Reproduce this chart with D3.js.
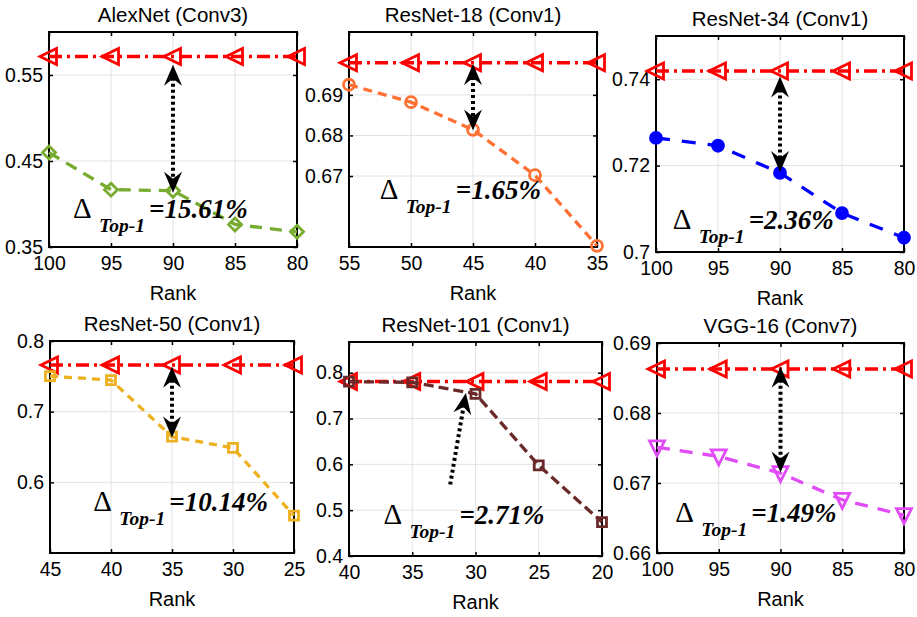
<!DOCTYPE html>
<html>
<head>
<meta charset="utf-8">
<script src="https://cdn.jsdelivr.net/npm/d3@7"></script>
<style>
  body { margin: 0; background: #fff; }
  svg { display: block; }
  text { fill: #000; }
</style>
</head>
<body>
<svg id="chart" width="917" height="617"></svg>
<script>
'use strict'

// ---- data ----
const titles = ['AlexNet (Conv3)', 'ResNet-18 (Conv1)', 'ResNet-34 (Conv1)',
    'ResNet-50 (Conv1)', 'ResNet-101 (Conv1)', 'VGG-16 (Conv7)']
const deltas = ['=15.61%', '=1.65%', '=2.36%', '=10.14%', '=2.71%', '=1.49%']

const alexRank = [100, 95, 90, 85, 80]
const alexBase = [0.5716, 0.5716, 0.5716, 0.5716, 0.5716]
const alexAcc = [0.4598, 0.4167, 0.4155, 0.3762, 0.3676]
const alexYTicks = [0.35, 0.45, 0.55]

const r18Rank = [55, 50, 45, 40, 35]
const r18Base = [0.6979, 0.6979, 0.6979, 0.6979, 0.6979]
const r18Acc = [0.6925, 0.6882, 0.6814, 0.6702, 0.6528]
const r18YTicks = [0.67, 0.68, 0.69]

const r34Rank = [100, 95, 90, 85, 80]
const r34Base = [0.7419, 0.7419, 0.7419, 0.7419, 0.7419]
const r34Acc = [0.7264, 0.7246, 0.7183, 0.709, 0.7033]
const r34YTicks = [0.7, 0.72, 0.74]

const r50Rank = [45, 40, 35, 30, 25]
const r50Base = [0.766, 0.766, 0.766, 0.766, 0.766]
const r50Acc = [0.7503, 0.7447, 0.6646, 0.6487, 0.553]
const r50YTicks = [0.6, 0.7, 0.8]

const r101Rank = [40, 35, 30, 25, 20]
const r101Base = [0.781, 0.781, 0.781, 0.781, 0.781]
const r101Acc = [0.7805, 0.779, 0.7539, 0.5976, 0.474]
const r101YTicks = [0.4, 0.5, 0.6, 0.7, 0.8]

const vggRank = [100, 95, 90, 85, 80]
const vggBase = [0.6863, 0.6863, 0.6863, 0.6863, 0.6863]
const vggAcc = [0.6751, 0.6738, 0.6714, 0.6676, 0.6654]
const vggYTicks = [0.66, 0.67, 0.68, 0.69]

// ---- drawing ----
const sans = '"Liberation Sans", Arial, sans-serif'
const serif = '"Liberation Serif", "Times New Roman", serif'

const markerPath = {
    triLeft: 'M-9,0L7.5,-8L7.5,8Z',
    triDown: 'M-7.5,-6.5L7.5,-6.5L0,8.5Z',
    diamond: 'M0,-6.5L6.5,0L0,6.5L-6.5,0Z',
    square: 'M-4.5,-4.5H4.5V4.5H-4.5Z',
    circle: 'M5.5,0A5.5,5.5,0,1,1,-5.5,0A5.5,5.5,0,1,1,5.5,0Z'
}

const panels = [
    { rank: alexRank, base: alexBase, acc: alexAcc, yTicks: alexYTicks, yDom: [0.35, 0.6],
      box: [49, 297, 32, 247], color: '#77ac30', dash: '12,8', marker: 'diamond', fill: 'none',
      arrow: [90, 0.562, 0.413], anno: [98.06, 0.384] },
    { rank: r18Rank, base: r18Base, acc: r18Acc, yTicks: r18YTicks, yDom: [0.6525, 0.7055],
      box: [349, 597, 32, 247], color: '#ff7033', dash: '9,6', marker: 'circle', fill: 'none',
      arrow: [45, 0.6976, 0.6812], anno: [52.52, 0.6643] },
    { rank: r34Rank, base: r34Base, acc: r34Acc, yTicks: r34YTicks, yDom: [0.7, 0.75],
      box: [656, 904, 36, 252], color: '#0000ff', dash: '14,12', marker: 'circle', fill: '#0000ff',
      arrow: [90, 0.7406, 0.7185], anno: [98.65, 0.7053] },
    { rank: r50Rank, base: r50Base, acc: r50Acc, yTicks: r50YTicks, yDom: [0.5, 0.8],
      box: [50, 294, 341, 553], color: '#edb120', dash: '8,6', marker: 'square', fill: 'none',
      arrow: [35, 0.7637, 0.6634], anno: [41.45, 0.5589] },
    { rank: r101Rank, base: r101Base, acc: r101Acc, yTicks: r101YTicks, yDom: [0.4, 0.867],
      box: [349, 602, 342, 556], color: '#6b2a2a', dash: '10,5', marker: 'square', fill: 'none',
      arrow: [32.0, 0.556, 30.76, 0.7555], anno: [37.28, 0.4707] },
    { rank: vggRank, base: vggBase, acc: vggAcc, yTicks: vggYTicks, yDom: [0.66, 0.69],
      box: [657, 904, 343, 553], color: '#e04cf5', dash: '13,10', marker: 'triDown', fill: 'none',
      arrow: [90, 0.6866, 0.6715], anno: [98.52, 0.6644] }
]

const svg = d3.select('#chart')

// notched arrow head (vback2 style), tip at origin pointing up
const headPath = 'M0,0L9,21L0,14L-9,21Z'

const drawArrowHead = (g, x, y, angle) => {
    g.append('path')
        .attr('d', headPath)
        .attr('fill', '#000')
        .attr('transform', `translate(${x},${y}) rotate(${angle})`)
}

panels.forEach((p, i) => {
    const [left, right, top, bottom] = p.box
    const x = d3.scaleLinear().domain([p.rank[0], p.rank[4]]).range([left, right])
    const y = d3.scaleLinear().domain(p.yDom).range([bottom, top])
    const g = svg.append('g')

    // grid
    g.append('g').selectAll('line').data(p.rank).join('line')
        .attr('x1', d => x(d)).attr('x2', d => x(d))
        .attr('y1', top).attr('y2', bottom)
        .attr('stroke', '#e2e2e2').attr('stroke-width', 1)
    g.append('g').selectAll('line').data(p.yTicks).join('line')
        .attr('x1', left).attr('x2', right)
        .attr('y1', d => y(d)).attr('y2', d => y(d))
        .attr('stroke', '#e2e2e2').attr('stroke-width', 1)

    // axes
    const xa = g.append('g').attr('transform', `translate(0,${bottom})`)
        .call(d3.axisBottom(x).tickValues(p.rank).tickSizeInner(-4).tickSizeOuter(0).tickPadding(9))
    const xt = g.append('g').attr('transform', `translate(0,${top})`)
        .call(d3.axisTop(x).tickValues(p.rank).tickSizeInner(-4).tickSizeOuter(0).tickFormat(''))
    const ya = g.append('g').attr('transform', `translate(${left},0)`)
        .call(d3.axisLeft(y).tickValues(p.yTicks).tickSizeInner(-4).tickSizeOuter(0).tickPadding(6)
            .tickFormat(d => String(d)))
    const yr = g.append('g').attr('transform', `translate(${right},0)`)
        .call(d3.axisRight(y).tickValues(p.yTicks).tickSizeInner(-4).tickSizeOuter(0).tickFormat(''))
    ;[xa, xt, ya, yr].forEach(a => {
        a.select('.domain').remove()
        a.selectAll('.tick line').attr('stroke', '#000').attr('stroke-width', 1.5)
        a.selectAll('.tick text').attr('font-size', 19.5)
            .attr('font-family', sans).attr('fill', '#000')
    })
    g.append('rect')
        .attr('x', left).attr('y', top)
        .attr('width', right - left).attr('height', bottom - top)
        .attr('fill', 'none').attr('stroke', '#000').attr('stroke-width', 2)

    // title and x label
    g.append('text')
        .attr('x', (left + right) / 2).attr('y', top - 10)
        .attr('text-anchor', 'middle').attr('font-size', 20.5).attr('font-family', sans)
        .text(titles[i])
    g.append('text')
        .attr('x', (left + right) / 2).attr('y', bottom + 53)
        .attr('text-anchor', 'middle').attr('font-size', 20).attr('font-family', sans)
        .text('Rank')

    const line = (vals) => d3.line().x((d, k) => x(p.rank[k])).y(d => y(d))(vals)

    // baseline (red dash-dot, left triangles)
    g.append('path')
        .attr('d', line(p.base))
        .attr('fill', 'none').attr('stroke', '#ff0000')
        .attr('stroke-width', 3.5).attr('stroke-dasharray', '13,5,3,5')
    g.append('g').selectAll('path').data(p.base).join('path')
        .attr('d', markerPath.triLeft)
        .attr('transform', (d, k) => `translate(${x(p.rank[k])},${y(d)})`)
        .attr('fill', 'none').attr('stroke', '#ff0000').attr('stroke-width', 2.8)

    // low-rank series
    g.append('path')
        .attr('d', line(p.acc))
        .attr('fill', 'none').attr('stroke', p.color)
        .attr('stroke-width', 3.3).attr('stroke-dasharray', p.dash)
    g.append('g').selectAll('path').data(p.acc).join('path')
        .attr('d', markerPath[p.marker])
        .attr('transform', (d, k) => `translate(${x(p.rank[k])},${y(d)})`)
        .attr('fill', p.fill).attr('stroke', p.color).attr('stroke-width', 2.8)

    // arrow
    const ag = g.append('g')
    if (p.arrow.length === 3) {
        const ax = x(p.arrow[0])
        const y1 = y(p.arrow[1])
        const y2 = y(p.arrow[2])
        ag.append('line')
            .attr('x1', ax).attr('x2', ax).attr('y1', y1 + 13).attr('y2', y2 - 13)
            .attr('stroke', '#000').attr('stroke-width', 4).attr('stroke-dasharray', '3,3')
        drawArrowHead(ag, ax, y1, 0)
        drawArrowHead(ag, ax, y2, 180)
    } else {
        const x1 = x(p.arrow[0]), y1 = y(p.arrow[1])
        const x2 = x(p.arrow[2]), y2 = y(p.arrow[3])
        const ang = Math.atan2(x2 - x1, -(y2 - y1)) * 180 / Math.PI
        const len = Math.hypot(x2 - x1, y2 - y1)
        const ex = x2 - (x2 - x1) / len * 13
        const ey = y2 - (y2 - y1) / len * 13
        ag.append('line')
            .attr('x1', x1).attr('x2', ex).attr('y1', y1).attr('y2', ey)
            .attr('stroke', '#000').attr('stroke-width', 4).attr('stroke-dasharray', '3,3')
        drawArrowHead(ag, x2, y2, ang)
    }

    // Delta annotation
    const tx = x(p.anno[0])
    const ty = y(p.anno[1])
    const t = g.append('text').style('font-family', serif)
    t.append('tspan').attr('x', tx).attr('y', ty)
        .style('font-size', '29px').text('\u0394')
    t.append('tspan').attr('x', tx + 26).attr('y', ty + 14)
        .style('font-size', '19.5px').style('font-weight', 'bold').style('font-style', 'italic')
        .text('Top-1')
    t.append('tspan').attr('x', tx + 76).attr('y', ty)
        .style('font-size', '27px').style('font-weight', 'bold').style('font-style', 'italic')
        .text(deltas[i])
})
</script>
</body>
</html>
